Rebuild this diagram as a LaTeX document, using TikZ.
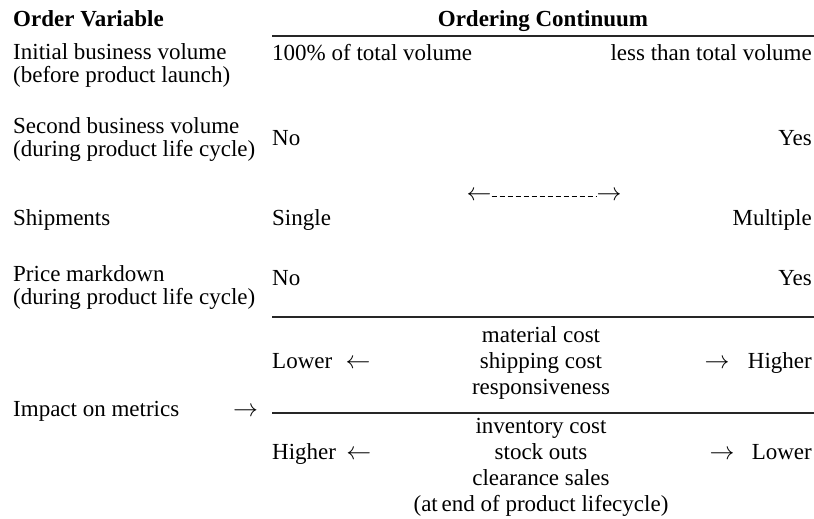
\documentclass[tikz,border=0pt]{standalone}
\usepackage{fontspec}
\setmainfont{Liberation Serif}
\usetikzlibrary{positioning}

\begin{document}
\begin{tikzpicture}[x=1pt, y=-1pt]
        % Define styles for texts
        \tikzstyle{vartext} = [inner sep=0pt, anchor=base west, align=left, font=\fontsize{23}{23}\selectfont]
        \tikzstyle{endleft} = [inner sep=0pt, anchor=base west, font=\fontsize{23}{25}\selectfont]
        \tikzstyle{endright} = [inner sep=0pt, anchor=base east, font=\fontsize{23}{25}\selectfont]
        \tikzstyle{metric} = [inner sep=0pt, anchor=base, align=center, font=\fontsize{23}{25.8}\selectfont]
        \tikzstyle{rule} = [line width=1.1pt, black!85]
        \useasboundingbox (0,0) rectangle (814,519);

        % Headings (base anchor sits on the last line)
        \node[vartext] (headVar) at (13,27) {\textbf{Order Variable}};
        \node[metric] (headCont) at (543,27) {\textbf{Ordering Continuum}};

        % Order variables
        \node[vartext] (varInit) at (13,82) {Initial business volume\\(before product launch)};
        \node[vartext] (varSecond) at (13,156) {Second business volume\\(during product life cycle)};
        \node[vartext] (varShip) at (13,225) {Shipments};
        \node[vartext] (varPrice) at (13,304) {Price markdown\\(during product life cycle)};
        \node[vartext] (varImpact) at (13,416) {Impact on metrics};
        \node[endleft] (impArrow) at (233,416) {$\rightarrow$};

        % Ends of the continuum
        \node[endleft] (initL) at (272,60) {100\% of total volume};
        \node[endright] (initR) at (812,60) {less than total volume};
        \node[endleft] (secondL) at (272,145) {No};
        \node[endright] (secondR) at (812,145) {Yes};
        \node[endleft] (shipL) at (272,225) {Single};
        \node[endright] (shipR) at (812,225) {Multiple};
        \node[endleft] (priceL) at (272,285) {No};
        \node[endright] (priceR) at (812,285) {Yes};

        % Continuum arrow
        \node[inner sep=0pt, font=\fontsize{23}{25}\selectfont] (contL) at (479,196) {$\leftarrow$};
        \node[inner sep=0pt, font=\fontsize{23}{25}\selectfont] (contR) at (609,196) {$\rightarrow$};
        \draw[line width=0.8pt, dash pattern=on 5.5pt off 2.5pt] (contL) -- (contR);

        % Impact on metrics
        \node[endleft] (lowerA) at (272,368) {Lower};
        \node[endleft, base right=13pt of lowerA] (lowerArrow) {$\leftarrow$};
        \node[metric] (costsA) at (541,394) {material cost\\shipping cost\\responsiveness};
        \node[endright] (higherA) at (812,368) {Higher};
        \node[endright, base left=18pt of higherA] (higherArrow) {$\rightarrow$};

        \node[endleft] (higherB) at (272,459) {Higher};
        \node[endleft, base right=10pt of higherB] (higherBArrow) {$\leftarrow$};
        \node[metric] (costsB) at (541,511) {inventory cost\\stock outs\\clearance sales\\(at\,end of product lifecycle)};
        \node[endright] (lowerB) at (812,459) {Lower};
        \node[endright, base left=17pt of lowerB] (lowerBArrow) {$\rightarrow$};

        % Rules
        \coordinate (topL) at (272,36);
        \coordinate (topR) at (814,36);
        \coordinate (midL) at (272,317);
        \coordinate (midR) at (814,317);
        \coordinate (lowL) at (272,413);
        \coordinate (lowR) at (814,413);
        \draw[rule] (topL) -- (topR);
        \draw[rule] (midL) -- (midR);
        \draw[rule] (lowL) -- (lowR);
    \end{tikzpicture}
\end{document}
